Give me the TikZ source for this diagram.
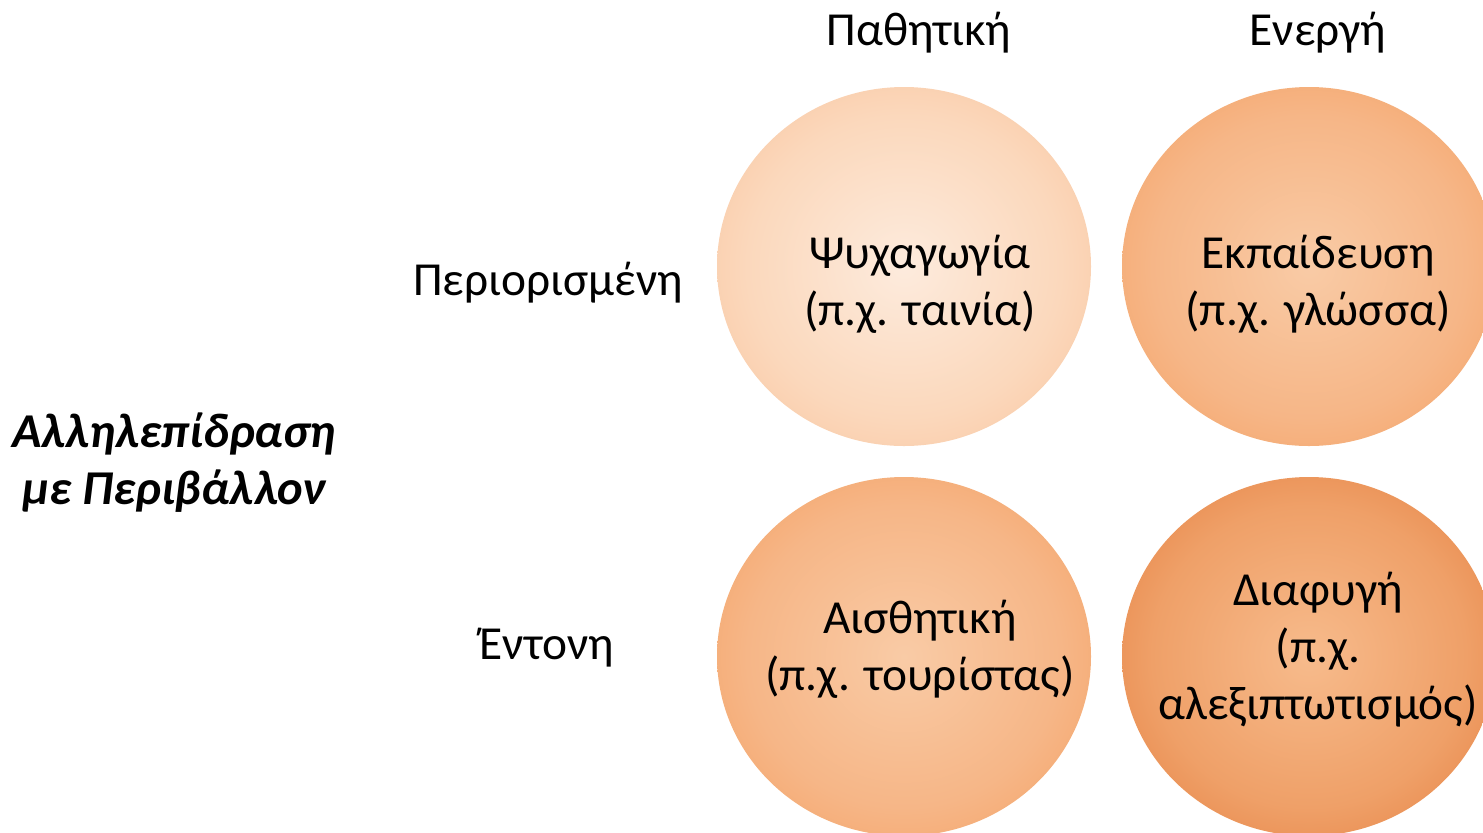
\documentclass[tikz,border=0pt]{standalone}
\usepackage{fontspec}
\usetikzlibrary{shapes.geometric}
\setmainfont{Carlito}
\definecolor{tlin}{HTML}{FDEBDD}
\definecolor{tlmid}{HTML}{FBD8BC}
\definecolor{tlout}{HTML}{F9C39C}
\definecolor{trin}{HTML}{F9CBA6}
\definecolor{trmid}{HTML}{F6B687}
\definecolor{trout}{HTML}{F4A062}
\definecolor{blin}{HTML}{F9CBA6}
\definecolor{blmid}{HTML}{F6B687}
\definecolor{blout}{HTML}{F4A062}
\definecolor{brin}{HTML}{F7BB8C}
\definecolor{brmid}{HTML}{EFA068}
\definecolor{brout}{HTML}{E57F40}
\pgfdeclareradialshading{tlshade}{\pgfpoint{0bp}{0bp}}{color(0bp)=(tlin); color(21bp)=(tlmid); color(35bp)=(tlout); color(50bp)=(tlout)}
\pgfdeclareradialshading{trshade}{\pgfpoint{0bp}{0bp}}{color(0bp)=(trin); color(21bp)=(trmid); color(35bp)=(trout); color(50bp)=(trout)}
\pgfdeclareradialshading{blshade}{\pgfpoint{0bp}{0bp}}{color(0bp)=(blin); color(21bp)=(blmid); color(35bp)=(blout); color(50bp)=(blout)}
\pgfdeclareradialshading{brshade}{\pgfpoint{0bp}{0bp}}{color(0bp)=(brin); color(21bp)=(brmid); color(35bp)=(brout); color(50bp)=(brout)}
\tikzset{
  ball/.style={ellipse, inner sep=0pt, minimum width=187pt, minimum height=179.5pt},
  lbl/.style={font=\fontsize{23.7}{28.5}\selectfont, align=center, inner sep=0pt},
  hdr/.style={font=\fontsize{23.7}{28.5}\selectfont, inner sep=0pt},
}
\begin{document}
\begin{tikzpicture}[x=0.5pt,y=-0.5pt]
\useasboundingbox (0,0) rectangle (1483,832);
\clip (0,0) rectangle (1483,832);
\node[ball, shading=tlshade] (tl) at (904,266.5) {};
\node[ball, shading=trshade] (tr) at (1309,266.5) {};
\node[ball, shading=blshade] (bl) at (904,656.5) {};
\node[ball, shading=brshade] (br) at (1309,656.5) {};
\node[lbl] (tlt) at (920,284) {Ψυχαγωγία\\(π.χ. ταινία)};
\node[lbl] (trt) at (1318,284) {Εκπαίδευση\\(π.χ. γλώσσα)};
\node[lbl] (blt) at (920,649) {Αισθητική\\(π.χ. τουρίστας)};
\node[lbl] (brt) at (1318,650) {Διαφυγή\\(π.χ.\\αλεξιπτωτισμός)};
\node[hdr] (pas) at (919,33) {Παθητική};
\node[hdr] (act) at (1318,33) {Ενεργή};
\node[hdr] (lim) at (548,283) {Περιορισμένη};
\node[hdr] (int) at (547,648) {Έντονη};
\node[lbl, font=\fontsize{24.3}{28.5}\selectfont\bfseries\itshape] (axis) at (174,463) {Αλληλεπίδραση\\με Περιβάλλον};
\end{tikzpicture}
\end{document}
